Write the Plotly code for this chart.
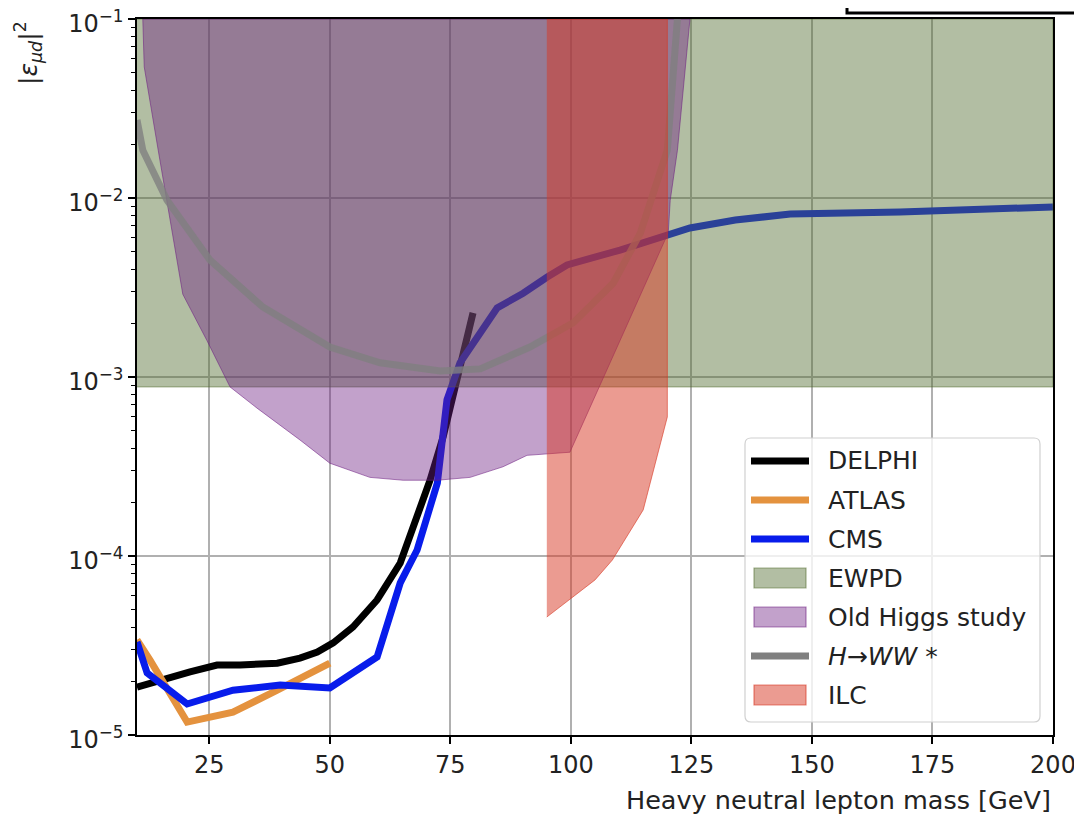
import plotly.graph_objects as go

# ---------------- data ----------------
delphi_mass = [10, 16.2, 21.0, 26.6, 31.4, 39.1, 43.8, 47.4, 50.7, 54.8, 59.8, 64.6, 68.1, 70.8, 73.5, 75.6, 77.6, 79.7]
delphi_eps = [1.85e-5, 2.08e-5, 2.25e-5, 2.46e-5, 2.46e-5, 2.52e-5, 2.69e-5, 2.91e-5, 3.27e-5, 4.01e-5, 5.68e-5,
              9.14e-5, 1.65e-4, 2.66e-4, 4.63e-4, 7.73e-4, 1.29e-3, 2.28e-3]

atlas_mass = [10, 12.7, 20.4, 29.9, 39.1, 50.0]
atlas_eps = [3.40e-5, 2.62e-5, 1.18e-5, 1.34e-5, 1.78e-5, 2.52e-5]

cms_mass = [10, 12.1, 20.4, 29.9, 39.7, 50.0, 59.8, 64.6, 68.1, 72.3, 74.3, 77.0, 84.7, 90.1, 95.1, 99.2,
            110.2, 120.2, 124.7, 134.1, 145.5, 168.3, 200]
cms_eps = [3.31e-5, 2.22e-5, 1.49e-5, 1.78e-5, 1.90e-5, 1.83e-5, 2.73e-5, 7.07e-5, 1.08e-4, 2.56e-4, 7.45e-4,
           1.20e-3, 2.43e-3, 2.94e-3, 3.62e-3, 4.23e-3, 5.12e-3, 6.13e-3, 6.80e-3, 7.53e-3, 8.14e-3, 8.36e-3, 8.91e-3]

ewpd_mass = [10, 200]
ewpd_low = [8.8e-4, 8.8e-4]
ewpd_high = [0.1, 0.1]

higgs_mass = [11.2, 11.5, 14.4, 16.2, 19.5, 24.5, 29.3, 34.9, 43.8, 50.0, 58.3, 65.2, 72.3, 79.1, 85.9, 90.9,
              99.8, 110.2, 120.2, 120.6, 122.1, 124.7]
higgs_low = [0.1, 5.4e-2, 1.85e-2, 9.7e-3, 2.9e-3, 1.6e-3, 8.8e-4, 6.7e-4, 4.45e-4, 3.3e-4, 2.75e-4, 2.65e-4,
             2.65e-4, 2.75e-4, 3.15e-4, 3.65e-4, 3.8e-4, 1.6e-3, 6.4e-3, 9.7e-3, 1.85e-2, 0.1]
higgs_high = [0.1] * len(higgs_mass)

hww_mass = [10, 11.2, 16.2, 25.1, 36.1, 50.0, 60.4, 72.9, 81.2, 91.5, 100.5, 108.8, 114.4, 117.9, 120.0, 122.1]
hww_eps = [2.73e-2, 1.85e-2, 9.75e-3, 4.51e-3, 2.46e-3, 1.47e-3, 1.20e-3, 1.08e-3, 1.11e-3, 1.47e-3, 2.01e-3,
           3.35e-3, 6.37e-3, 1.21e-2, 1.85e-2, 0.1]

ilc_mass = [95, 105, 108.6, 115, 120]
ilc_low = [4.56e-5, 7.35e-5, 9.5e-5, 1.81e-4, 5.98e-4]
ilc_high = [0.1, 0.1, 0.1, 0.1, 0.1]

x_ticks = [25, 50, 75, 100, 125, 150, 175, 200]
y_ticks = [1e-5, 1e-4, 1e-3, 1e-2, 1e-1]
y_ticklabels = ["10<sup>\u22125</sup>", "10<sup>\u22124</sup>", "10<sup>\u22123</sup>",
                "10<sup>\u22122</sup>", "10<sup>\u22121</sup>"]

legend_labels = ["DELPHI", "ATLAS", "CMS", "EWPD", "Old Higgs study", "<i>H</i>\u2192<i>WW</i> *", "ILC"]

# ---------------- styling ----------------
FONT = "DejaVu Sans"
TXT = "#222222"
C_DELPHI = "black"
C_ATLAS = "rgb(228,146,62)"
C_CMS = "rgb(8,28,235)"
C_EWPD_F, C_EWPD_L = "rgba(85,110,50,0.45)", "rgba(85,110,50,0.55)"
C_HIGGS_F, C_HIGGS_L = "rgba(110,30,130,0.42)", "rgba(110,30,130,0.55)"
C_HWW = "rgba(128,128,128,0.8)"
C_ILC_F, C_ILC_L = "rgba(215,55,35,0.5)", "rgba(215,55,35,0.6)"

OFF = 8  # page body margin of the browser
W, H = 1082 - OFF, 816 - OFF
ML, MT = 137 - OFF, 19 - OFF
PW, PH = 916, 716
MR, MB = W - ML - PW, H - MT - PH


def px(x):  # window pixel -> paper x
    return (x - OFF - ML) / PW


def py(y):  # window pixel -> paper y
    return (MT + PH - (y - OFF)) / PH


fig = go.Figure()


def band(x, lo, hi):
    return list(x) + list(x)[::-1], list(lo) + list(hi)[::-1]


fig.add_trace(go.Scatter(x=delphi_mass, y=delphi_eps, mode="lines", name="DELPHI",
                         line=dict(color=C_DELPHI, width=7)))
fig.add_trace(go.Scatter(x=atlas_mass, y=atlas_eps, mode="lines", name="ATLAS",
                         line=dict(color=C_ATLAS, width=7)))
fig.add_trace(go.Scatter(x=cms_mass, y=cms_eps, mode="lines", name="CMS",
                         line=dict(color=C_CMS, width=7)))

bx, by = band(ewpd_mass, ewpd_low, ewpd_high)
fig.add_trace(go.Scatter(x=bx, y=by, mode="lines", fill="toself", name="EWPD",
                         fillcolor=C_EWPD_F, line=dict(color=C_EWPD_L, width=1)))

bx, by = band(higgs_mass, higgs_low, higgs_high)
fig.add_trace(go.Scatter(x=bx, y=by, mode="lines", fill="toself", name="Old Higgs study",
                         fillcolor=C_HIGGS_F, line=dict(color=C_HIGGS_L, width=1)))

fig.add_trace(go.Scatter(x=hww_mass, y=hww_eps, mode="lines", name="H\u2192WW*",
                         line=dict(color=C_HWW, width=7)))

bx, by = band(ilc_mass, ilc_low, ilc_high)
fig.add_trace(go.Scatter(x=bx, y=by, mode="lines", fill="toself", name="ILC",
                         fillcolor=C_ILC_F, line=dict(color=C_ILC_L, width=1)))

axis_common = dict(showline=True, linecolor="black", linewidth=1.5, mirror=True, automargin=False,
                   ticks="outside", ticklen=7, tickwidth=1.5, tickcolor="black",
                   showgrid=True, gridcolor="#b0b0b0", gridwidth=1.5, zeroline=False,
                   ticklabeloverflow="allow",
                   tickfont=dict(family=FONT, size=24, color=TXT))

fig.update_xaxes(range=[10, 200], tickmode="array", tickvals=x_ticks, **axis_common)

minor_vals = [k * d for d in [1e-5, 1e-4, 1e-3, 1e-2] for k in range(2, 10)]
fig.update_yaxes(type="log", range=[-5, -1], tickmode="array", tickvals=y_ticks, ticktext=y_ticklabels,
                 ticklabelshift=5,
                 minor=dict(tickmode="array", tickvals=minor_vals, ticks="outside", ticklen=4,
                            tickwidth=1, tickcolor="black", showgrid=False),
                 **axis_common)

fig.update_layout(
    width=W, height=H,
    margin=dict(l=ML, r=MR, t=MT, b=MB, autoexpand=False),
    plot_bgcolor="white", paper_bgcolor="white",
    font=dict(family=FONT, size=24, color=TXT),
    showlegend=False,
)

# axis titles (matplotlib-style: y label at top, x label at right)
fig.add_annotation(text="|<i>\u03b5</i><sub><i>\u03bcd</i></sub>|<sup>2</sup>", textangle=-90,
                   xref="paper", yref="paper", x=px(28), y=py(19), xanchor="center", yanchor="top",
                   showarrow=False, font=dict(family=FONT, size=25, color=TXT))
fig.add_annotation(text="Heavy neutral lepton mass [GeV]", xref="paper", yref="paper",
                   x=1.0, y=py(800), xanchor="right", yanchor="middle", showarrow=False,
                   font=dict(family=FONT, size=25.5, color=TXT))

# ---------------- hand-drawn legend (matplotlib look) ----------------
L0, R0, T0, B0, RAD = 745, 1040, 438, 722, 6
rx, ry = RAD / PW, RAD / PH
x0, x1, y0, y1 = px(L0), px(R0), py(B0), py(T0)
path = (f"M{x0 + rx},{y0} L{x1 - rx},{y0} Q{x1},{y0} {x1},{y0 + ry} L{x1},{y1 - ry} "
        f"Q{x1},{y1} {x1 - rx},{y1} L{x0 + rx},{y1} Q{x0},{y1} {x0},{y1 - ry} "
        f"L{x0},{y0 + ry} Q{x0},{y0} {x0 + rx},{y0} Z")
fig.add_shape(type="path", path=path, xref="paper", yref="paper", layer="above",
              fillcolor="rgba(255,255,255,0.8)", line=dict(color="#d0d0d0", width=1.2))

legend_styles = [("line", C_DELPHI, None), ("line", C_ATLAS, None), ("line", C_CMS, None),
                 ("rect", C_EWPD_F, C_EWPD_L), ("rect", C_HIGGS_F, C_HIGGS_L),
                 ("line", "rgb(128,128,128)", None), ("rect", C_ILC_F, C_ILC_L)]
row_y0, row_dy = 461, 39
for i, (label, (kind, col, edge)) in enumerate(zip(legend_labels, legend_styles)):
    yc = row_y0 + i * row_dy
    if kind == "line":
        fig.add_shape(type="line", xref="paper", yref="paper", layer="above",
                      x0=px(751), x1=px(809), y0=py(yc), y1=py(yc), line=dict(color=col, width=7))
    else:
        fig.add_shape(type="rect", xref="paper", yref="paper", layer="above",
                      x0=px(754), x1=px(806), y0=py(yc + 10), y1=py(yc - 10),
                      fillcolor=col, line=dict(color=edge, width=1.2))
    fig.add_annotation(text=label, xref="paper", yref="paper", x=px(826), y=py(yc),
                       xanchor="left", yanchor="middle", showarrow=False,
                       font=dict(family=FONT, size=25, color=TXT))

# partially visible box at the top right of the reference image
fig.add_shape(type="rect", xref="paper", yref="paper", x0=px(847), x1=px(1095), y0=py(13), y1=py(-20),
              line=dict(color="black", width=3), fillcolor="white", layer="above")

fig.write_html("out.html")
